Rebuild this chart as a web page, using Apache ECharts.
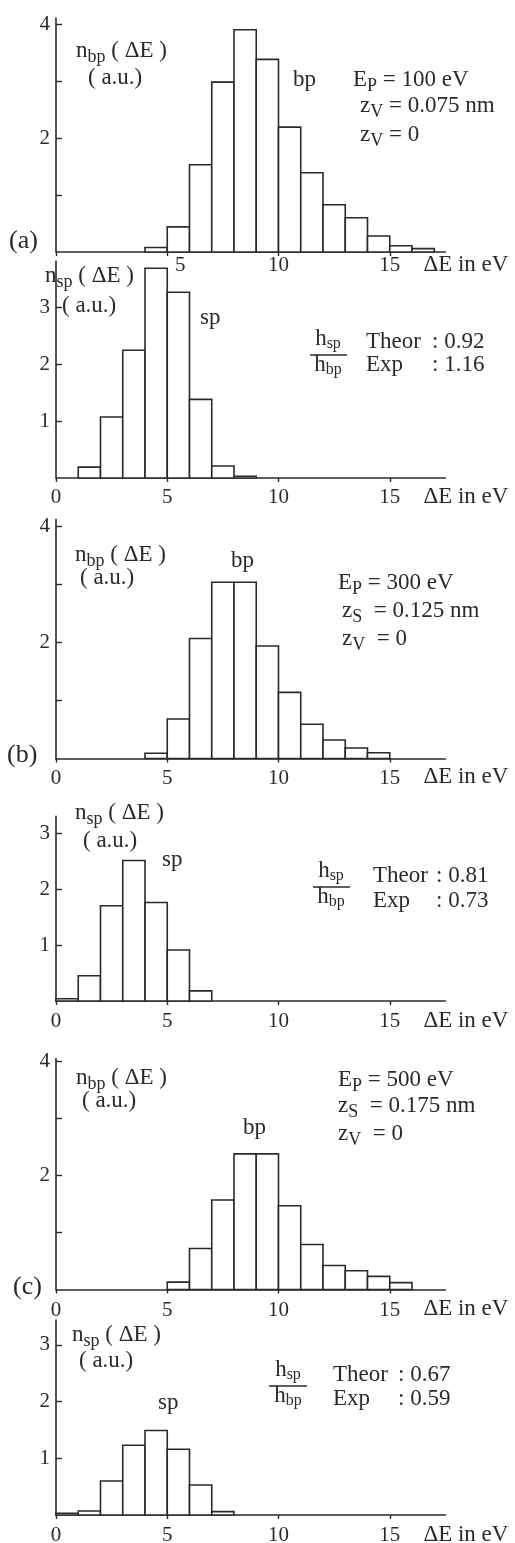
<!DOCTYPE html>
<html>
<head>
<meta charset="utf-8">
<script src="https://cdn.jsdelivr.net/npm/echarts@6/dist/echarts.min.js"></script>
<style>
  html, body { margin: 0; padding: 0; background: #fff; }
  #chart { width: 515px; height: 1543px; }
</style>
</head>
<body>
<div id="chart"></div>
<script>
// Energy-loss distributions n(ΔE) in arbitrary units, 1 eV bins.
// *_lo = lower bin edge in eV, *_n = bin height.

// (a) Ep = 100 eV
const bpA_lo = [4, 5, 6, 7, 8, 9, 10, 11, 12, 13, 14, 15, 16];
const bpA_n  = [0.08, 0.44, 1.53, 2.98, 3.90, 3.38, 2.19, 1.39, 0.83, 0.60, 0.28, 0.11, 0.06];
const spA_lo = [1, 2, 3, 4, 5, 6, 7, 8];
const spA_n  = [0.19, 1.07, 2.24, 3.68, 3.26, 1.38, 0.21, 0.03];

// (b) Ep = 300 eV
const bpB_lo = [4, 5, 6, 7, 8, 9, 10, 11, 12, 13, 14];
const bpB_n  = [0.09, 0.68, 2.07, 3.04, 3.04, 1.94, 1.14, 0.59, 0.32, 0.18, 0.10];
const spB_lo = [0, 1, 2, 3, 4, 5, 6];
const spB_n  = [0.04, 0.45, 1.70, 2.51, 1.76, 0.91, 0.18];

// (c) Ep = 500 eV
const bpC_lo = [5, 6, 7, 8, 9, 10, 11, 12, 13, 14, 15];
const bpC_n  = [0.13, 0.72, 1.57, 2.38, 2.38, 1.47, 0.79, 0.42, 0.33, 0.23, 0.12];
const spC_lo = [0, 1, 2, 3, 4, 5, 6, 7];
const spC_n  = [0.03, 0.07, 0.60, 1.23, 1.49, 1.16, 0.53, 0.06];

const BIN_WIDTH = 1;
const xTickValues = [0, 5, 10, 15];
const bpTickValues = [1, 2, 3, 4];
const spTickValues = [1, 2, 3];
const bpLabelValues = [2, 4];
const spLabelValues = [1, 2, 3];
const X_AXIS_NAME = 'ΔE in eV';

// ---- styling / layout ----
const INK = '#2a2a2a';
const SERIF = '"Liberation Serif", "DejaVu Serif", serif';
const X_MAX = 17.5;
const PX_PER_EV = 22.25;
const GRID_LEFT = 56;

const panels = [
  { lo: bpA_lo, n: bpA_n, zero: 252,    unit: 57,   ymax: 4.1,  ticks: bpTickValues, labels: bpLabelValues, xLabels: [5, 10, 15], gap: 3 },
  { lo: spA_lo, n: spA_n, zero: 478,    unit: 57,   ymax: 3.8,  ticks: spTickValues, labels: spLabelValues, xLabels: xTickValues, gap: 9 },
  { lo: bpB_lo, n: bpB_n, zero: 758.5,  unit: 58,   ymax: 4.12, ticks: bpTickValues, labels: bpLabelValues, xLabels: xTickValues, gap: 9 },
  { lo: spB_lo, n: spB_n, zero: 1001,   unit: 56,   ymax: 3.3,  ticks: spTickValues, labels: spLabelValues, xLabels: xTickValues, gap: 10 },
  { lo: bpC_lo, n: bpC_n, zero: 1289.5, unit: 57,   ymax: 4.05, ticks: bpTickValues, labels: bpLabelValues, xLabels: xTickValues, gap: 10 },
  { lo: spC_lo, n: spC_n, zero: 1515,   unit: 56.7, ymax: 3.44, ticks: spTickValues, labels: spLabelValues, xLabels: xTickValues, gap: 10 }
];

const RICH = {
  s:  { fontFamily: SERIF, fontSize: 18, fill: INK, color: INK, padding: [13, 0, 0, 0], lineHeight: 32 },
  f:  { fontFamily: SERIF, fontSize: 16, fill: INK, color: INK, padding: [10, 0, 0, 0], lineHeight: 32 },
  sh: { padding: [0, 0, 0, 26] }
};

function histogramBox(params, api) {
  const lo = api.value(0), hi = api.value(1), v = api.value(2);
  const base = api.coord([lo, 0]);
  const top = api.coord([hi, v]);
  return {
    type: 'rect',
    shape: { x: base[0], y: top[1], width: top[0] - base[0], height: base[1] - top[1] },
    style: { fill: '#ffffff', stroke: INK, lineWidth: 1.6 }
  };
}

const grid = [], xAxis = [], yAxis = [], series = [];
panels.forEach((p, i) => {
  const h = p.ymax * p.unit;
  grid.push({ left: GRID_LEFT, top: p.zero - h, width: X_MAX * PX_PER_EV, height: h, outerBoundsMode: 'none' });
  xAxis.push({
    gridIndex: i, type: 'value', min: 0, max: X_MAX,
    axisLine: { lineStyle: { color: INK, width: 1.6 } },
    splitLine: { show: false },
    axisTick: { show: true, length: 4, inside: false, customValues: xTickValues, lineStyle: { color: INK, width: 1.4 } },
    axisLabel: {
      customValues: p.xLabels, margin: p.gap, color: INK, fontFamily: SERIF, fontSize: 21,
      verticalAlign: 'top', rich: RICH,
      formatter: v => (i === 0 && v === 5) ? '{sh|5}' : String(v)
    },
    name: X_AXIS_NAME, nameLocation: 'end', nameGap: -22,
    nameTextStyle: { color: INK, fontFamily: SERIF, fontSize: 23, align: 'left', verticalAlign: 'top', padding: [p.gap - 2, 0, 0, 0] }
  });
  yAxis.push({
    gridIndex: i, type: 'value', min: 0, max: p.ymax,
    axisLine: { show: true, lineStyle: { color: INK, width: 1.6 } },
    splitLine: { show: false },
    axisTick: { show: true, inside: true, length: 6, customValues: p.ticks, lineStyle: { color: INK, width: 1.4 } },
    axisLabel: { customValues: p.labels, margin: 6, color: INK, fontFamily: SERIF, fontSize: 21 }
  });
  series.push({
    type: 'custom', xAxisIndex: i, yAxisIndex: i,
    renderItem: histogramBox,
    encode: { x: [0, 1], y: 2 },
    data: p.lo.map((lo, k) => [lo, lo + BIN_WIDTH, p.n[k]]),
    silent: true, animation: false
  });
});

function txt(x, y, text, size, align) {
  return {
    type: 'text', x, y, silent: true,
    style: { text, fill: INK, fontFamily: SERIF, fontSize: size || 23, align: align || 'left', verticalAlign: 'middle', lineHeight: 32, rich: RICH }
  };
}

function ratio(cx, lineY, x1, x2) {
  return [
    txt(cx, lineY - 16, 'h{f|sp}', 23, 'center'),
    { type: 'line', silent: true, shape: { x1, y1: lineY, x2, y2: lineY }, style: { stroke: INK, lineWidth: 1.3 } },
    txt(cx, lineY + 10, 'h{f|bp}', 23, 'center')
  ];
}

const graphic = [
  // (a)
  txt(76, 51, 'n{s|bp} ( ΔE )'),
  txt(88, 78, '( a.u.)'),
  txt(293, 80, 'bp'),
  txt(353, 80, 'E{s|P} = 100 eV'),
  txt(360, 106, 'z{s|V} = 0.075 nm'),
  txt(360, 135, 'z{s|V} = 0'),
  txt(9, 241, '(a)', 26),
  txt(45, 276, 'n{s|sp} ( ΔE )'),
  txt(62, 306, '( a.u.)'),
  txt(200, 318, 'sp'),
  ...ratio(328, 355, 310, 347),
  txt(366, 342, 'Theor'), txt(432, 342, ': 0.92'),
  txt(366, 365, 'Exp'),   txt(432, 365, ': 1.16'),
  // (b)
  txt(75, 555, 'n{s|bp} ( ΔE )'),
  txt(80, 578, '( a.u.)'),
  txt(231, 561, 'bp'),
  txt(338, 583, 'E{s|P} = 300 eV'),
  txt(342, 611, 'z{s|S}  = 0.125 nm'),
  txt(342, 639, 'z{s|V}  = 0'),
  txt(7, 755, '(b)', 26),
  txt(75, 813, 'n{s|sp} ( ΔE )'),
  txt(83, 841, '( a.u.)'),
  txt(162, 860, 'sp'),
  ...ratio(331, 887, 313, 350),
  txt(373, 876, 'Theor'), txt(436, 876, ': 0.81'),
  txt(373, 901, 'Exp'),   txt(436, 901, ': 0.73'),
  // (c)
  txt(76, 1078, 'n{s|bp} ( ΔE )'),
  txt(82, 1101, '( a.u.)'),
  txt(243, 1128, 'bp'),
  txt(338, 1080, 'E{s|P} = 500 eV'),
  txt(338, 1106, 'z{s|S}  = 0.175 nm'),
  txt(338, 1134, 'z{s|V}  = 0'),
  txt(13, 1287, '(c)', 26),
  txt(72, 1335, 'n{s|sp} ( ΔE )'),
  txt(79, 1361, '( a.u.)'),
  txt(158, 1403, 'sp'),
  ...ratio(288, 1386, 269, 307),
  txt(333, 1375, 'Theor'), txt(398, 1375, ': 0.67'),
  txt(333, 1399, 'Exp'),   txt(398, 1399, ': 0.59')
];

const chart = echarts.init(document.getElementById('chart'), null, { renderer: 'canvas' });
chart.setOption({
  backgroundColor: '#ffffff',
  animation: false,
  textStyle: { fontFamily: SERIF, color: INK },
  grid, xAxis, yAxis, series, graphic
});
</script>
</body>
</html>
